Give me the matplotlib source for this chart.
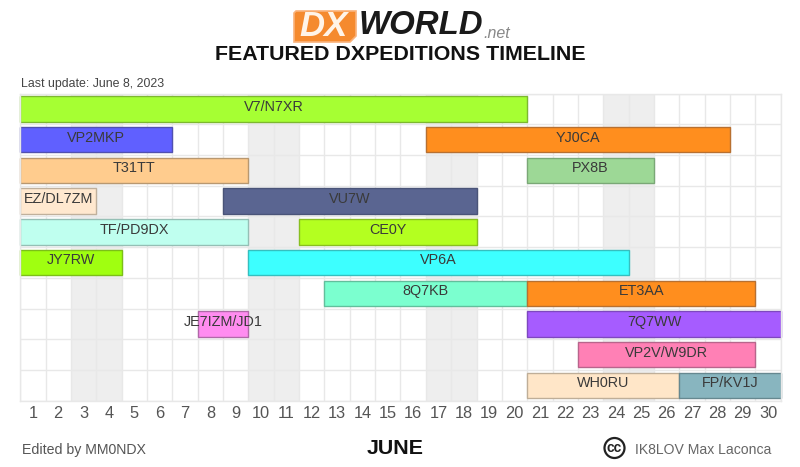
import matplotlib
matplotlib.use("Agg")
import matplotlib.pyplot as plt
from matplotlib.patches import Circle, Polygon

plt.rcParams["font.family"] = ["Liberation Sans", "DejaVu Sans"]

days = list(range(1, 31))
weekends = [3, 4, 10, 11, 17, 18, 24, 25]

names = ["V7/N7XR", "VP2MKP", "YJ0CA", "T31TT", "PX8B", "EZ/DL7ZM", "VU7W", "TF/PD9DX", "CE0Y",
         "JY7RW", "VP6A", "8Q7KB", "ET3AA", "JE7IZM/JD1", "7Q7WW", "VP2V/W9DR", "WH0RU", "FP/KV1J"]
rows = [0, 1, 1, 2, 2, 3, 3, 4, 4, 5, 5, 6, 6, 7, 7, 8, 9, 9]
first_day = [1, 1, 17, 1, 21, 1, 9, 1, 12, 1, 10, 13, 21, 8, 21, 23, 21, 27]
last_day = [20, 6, 28, 9, 25, 3, 18, 9, 18, 4, 24, 20, 29, 9, 30, 29, 26, 30]
colors = ["#A6FF33", "#6060FF", "#FF8E1E", "#FFCC8E", "#9DD896", "#FFE8CF", "#5A6591", "#BFFFEF", "#B4FF20",
          "#A0FF10", "#3DFFFF", "#7BFFCF", "#FF8E1E", "#FF8CF0", "#A65CFF", "#FF80B5", "#FFE6C8", "#88B5BF"]
edges = ["#7DB82F", "#5050B0", "#B87030", "#B89870", "#7AA876", "#C0B09C", "#4A5478", "#95BFB5", "#88BF20",
         "#7CBF18", "#35BFBF", "#62BF9C", "#B87030", "#B06AA8", "#7E48BF", "#B8658C", "#BFAE98", "#668890"]

fig = plt.figure(figsize=(8, 4.67), dpi=100)
ax = fig.add_axes([20.2 / 800, 1 - 400.7 / 467, 760.5 / 800, 307 / 467])
ax.set_xlim(0, 30)
ax.set_ylim(10, 0)

for d in weekends:
    ax.axvspan(d - 1, d, color="#EEEEEE", lw=0, zorder=0)

ax.set_xticks(range(31))
ax.set_yticks(range(11))
ax.grid(True, color="#E8E8E8", lw=1.0, zorder=1)
ax.set_axisbelow(True)
ax.tick_params(length=0, labelleft=False, labelbottom=False)
for s in ax.spines.values():
    s.set_color("#E8E8E8")
    s.set_linewidth(1.0)

lefts = [f - 1 for f in first_day]
widths = [l - f + 1 for f, l in zip(first_day, last_day)]
bars = ax.barh([r + 0.5 for r in rows], widths, left=lefts, height=0.83, color=colors,
               edgecolor=edges, linewidth=1.0, zorder=2)
for b in bars:
    b.set_clip_on(False)

for name, r, left, w in zip(names, rows, lefts, widths):
    ax.text(left + w / 2, r + 0.43, name, ha="center", va="center", fontsize=10.4,
            color="#3A3A3A", zorder=3)

for d in days:
    ax.text(d - 0.5, 10.43, str(d), ha="center", va="center", fontsize=11.8, color="#555555")

# header
logo = fig.add_axes([0, 0, 1, 1])
logo.set_xlim(0, 800)
logo.set_ylim(467, 0)
logo.axis("off")
logo.patch.set_alpha(0)
logo.add_patch(Polygon([(296, 11), (356, 11), (356, 36), (350, 42), (294, 42), (294, 13)], closed=True,
                       fc="#F58A2E", ec="#F9B27A", lw=1.2))
logo.text(324, 27, "DX", ha="center", va="center", fontsize=25, fontweight="bold", style="italic", color="#FFF4E8")
logo.text(359, 26, "WORLD", ha="left", va="center", fontsize=23.8, fontweight="bold", style="italic", color="#1A1A1A")
logo.text(483, 33, ".net", ha="left", va="center", fontsize=11.5, style="italic", color="#888888")
logo.text(400.5, 55, "FEATURED DXPEDITIONS TIMELINE", ha="center", va="center", fontsize=15.4,
          fontweight="bold", color="#111111")
logo.text(21, 84, "Last update: June 8, 2023", ha="left", va="center", fontsize=8.9, color="#444444")

# footer
logo.text(22.5, 450, "Edited by MM0NDX", ha="left", va="center", fontsize=10.2, color="#555555")
logo.text(395, 448, "JUNE", ha="center", va="center", fontsize=15.4, fontweight="bold", color="#111111")
logo.add_patch(Circle((614.5, 448), 10, fc="white", ec="#222222", lw=1.6))
logo.text(614.5, 447.5, "cc", ha="center", va="center", fontsize=10, fontweight="bold", color="#222222")
logo.text(635, 450, "IK8LOV Max Laconca", ha="left", va="center", fontsize=10.1, color="#666666")

fig.savefig("out.png", dpi=100)
